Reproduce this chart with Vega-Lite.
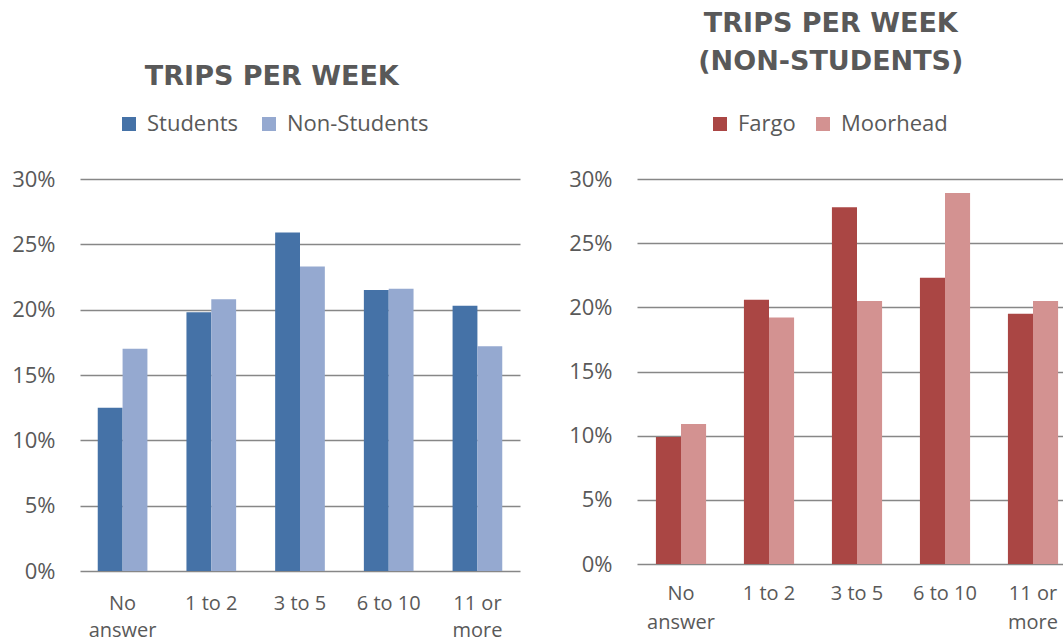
{
  "$schema": "https://vega.github.io/schema/vega-lite/v6.json",
  "padding": {"left": 11, "top": 10, "right": 0, "bottom": 0},
  "background": "white",
  "spacing": 117,
  "bounds": "flush",
  "resolve": {"scale": {"color": "independent", "xOffset": "independent", "y": "independent", "x": "independent"}, "legend": {"color": "independent"}},
  "config": {
    "view": {"stroke": null},
    "font": "Open Sans",
    "axis": {"labelFont": "Open Sans", "labelColor": "#595959", "domain": false, "ticks": false, "title": null},
    "legend": {"labelFont": "Open Sans", "labelColor": "#595959"},
    "title": {"font": "DejaVu Sans", "fontWeight": "bold", "fontSize": 27, "color": "#595959", "anchor": "middle", "frame": "bounds"}
  },
  "hconcat": [
    {
      "width": 440,
      "height": 392,
      "title": {"text": "TRIPS PER WEEK", "offset": 22, "dx": 6},
      "data": {"values": [
        {"cat": "No answer", "group": "Students", "pct": 0.125},
        {"cat": "No answer", "group": "Non-Students", "pct": 0.170},
        {"cat": "1 to 2", "group": "Students", "pct": 0.198},
        {"cat": "1 to 2", "group": "Non-Students", "pct": 0.208},
        {"cat": "3 to 5", "group": "Students", "pct": 0.259},
        {"cat": "3 to 5", "group": "Non-Students", "pct": 0.233},
        {"cat": "6 to 10", "group": "Students", "pct": 0.215},
        {"cat": "6 to 10", "group": "Non-Students", "pct": 0.216},
        {"cat": "11 or more", "group": "Students", "pct": 0.203},
        {"cat": "11 or more", "group": "Non-Students", "pct": 0.172}
      ]},
      "mark": {"type": "bar"},
      "encoding": {
        "x": {
          "field": "cat", "type": "nominal",
          "sort": ["No answer", "1 to 2", "3 to 5", "6 to 10", "11 or more"],
          "scale": {"paddingInner": 0.44, "paddingOuter": 0.2},
          "axis": {"labelAngle": 0, "labelFontSize": 20, "labelPadding": 22, "labelLineHeight": 27,
                   "labelExpr": "datum.value == 'No answer' ? ['No', 'answer'] : datum.value == '11 or more' ? ['11 or', 'more'] : datum.value"}
        },
        "xOffset": {"field": "group", "type": "nominal", "scale": {"domain": ["Students", "Non-Students"], "paddingInner": 0, "paddingOuter": 0}},
        "y": {
          "field": "pct", "type": "quantitative",
          "scale": {"domain": [0, 0.3]},
          "axis": {"values": [0, 0.05, 0.1, 0.15, 0.2, 0.25, 0.3], "format": ".0%", "labelFontSize": 22, "labelPadding": 25,
                   "grid": true, "gridColor": "#878787", "gridWidth": 1.3}
        },
        "color": {
          "field": "group", "type": "nominal",
          "scale": {"domain": ["Students", "Non-Students"], "range": ["#4572A7", "#95A9D0"]},
          "legend": {"title": null, "orient": "none", "legendX": 38, "legendY": -66, "direction": "horizontal",
                     "symbolType": "square", "symbolSize": 196, "symbolStrokeWidth": 0, "labelFontSize": 22,
                     "labelOffset": 7, "columnPadding": 19}
        }
      }
    },
    {
      "width": 440,
      "height": 385,
      "title": {"text": ["TRIPS PER WEEK", "(NON-STUDENTS)"], "lineHeight": 38, "offset": 37, "dx": 8},
      "data": {"values": [
        {"cat": "No answer", "city": "Fargo", "pct": 0.099},
        {"cat": "No answer", "city": "Moorhead", "pct": 0.109},
        {"cat": "1 to 2", "city": "Fargo", "pct": 0.206},
        {"cat": "1 to 2", "city": "Moorhead", "pct": 0.192},
        {"cat": "3 to 5", "city": "Fargo", "pct": 0.278},
        {"cat": "3 to 5", "city": "Moorhead", "pct": 0.205},
        {"cat": "6 to 10", "city": "Fargo", "pct": 0.223},
        {"cat": "6 to 10", "city": "Moorhead", "pct": 0.289},
        {"cat": "11 or more", "city": "Fargo", "pct": 0.195},
        {"cat": "11 or more", "city": "Moorhead", "pct": 0.205}
      ]},
      "mark": {"type": "bar"},
      "encoding": {
        "x": {
          "field": "cat", "type": "nominal",
          "sort": ["No answer", "1 to 2", "3 to 5", "6 to 10", "11 or more"],
          "scale": {"paddingInner": 0.43, "paddingOuter": 0.215},
          "axis": {"labelAngle": 0, "labelFontSize": 20, "labelPadding": 19, "labelLineHeight": 29,
                   "labelExpr": "datum.value == 'No answer' ? ['No', 'answer'] : datum.value == '11 or more' ? ['11 or', 'more'] : datum.value"}
        },
        "xOffset": {"field": "city", "type": "nominal", "scale": {"domain": ["Fargo", "Moorhead"], "paddingInner": 0, "paddingOuter": 0}},
        "y": {
          "field": "pct", "type": "quantitative",
          "scale": {"domain": [0, 0.3]},
          "axis": {"values": [0, 0.05, 0.1, 0.15, 0.2, 0.25, 0.3], "format": ".0%", "labelFontSize": 22, "labelPadding": 25,
                   "grid": true, "gridColor": "#878787", "gridWidth": 1.3}
        },
        "color": {
          "field": "city", "type": "nominal",
          "scale": {"domain": ["Fargo", "Moorhead"], "range": ["#AA4644", "#D39291"]},
          "legend": {"title": null, "orient": "none", "legendX": 72, "legendY": -66, "direction": "horizontal",
                     "symbolType": "square", "symbolSize": 196, "symbolStrokeWidth": 0, "labelFontSize": 22,
                     "labelOffset": 7, "columnPadding": 16}
        }
      }
    }
  ]
}
